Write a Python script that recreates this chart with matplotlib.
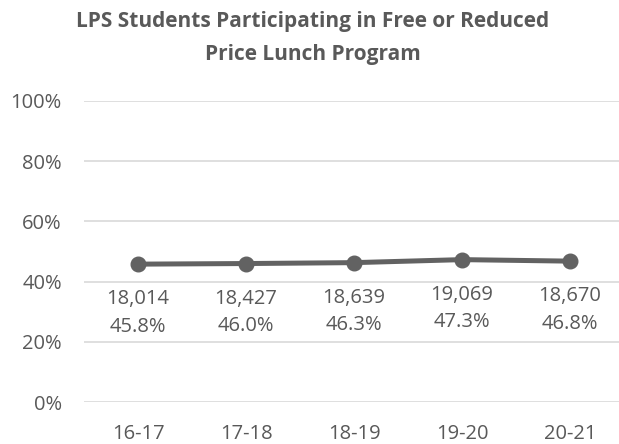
import matplotlib.pyplot as plt
from matplotlib.ticker import FuncFormatter

years = ["16-17", "17-18", "18-19", "19-20", "20-21"]
students = [18014, 18427, 18639, 19069, 18670]
pct = [45.8, 46.0, 46.3, 47.3, 46.8]

plt.rcParams['font.family'] = ['Open Sans', 'DejaVu Sans']
txt = "#595959"

fig = plt.figure(figsize=(6.19, 4.44), dpi=100)
ax = fig.add_axes([84/619, 42/444, 540/619, 301/444])

x = range(len(years))
ax.plot(x, pct, color="#626262", lw=3.6, marker="o", ms=10.5, solid_capstyle="round",
        zorder=3, clip_on=False)

for i in x:
    ax.annotate(f"{students[i]:,}\n{pct[i]:.1f}%", (i, pct[i]), xytext=(0, -18),
                textcoords="offset points", ha="center", va="top", fontsize=14.5,
                color=txt, linespacing=1.5)

ax.set_xlim(-0.5, len(years) - 0.5)
ax.set_ylim(0, 100)
ax.set_yticks(range(0, 101, 20))
ax.yaxis.set_major_formatter(FuncFormatter(lambda v, p: f"{v:.0f}%"))
ax.set_xticks(list(x))
ax.set_xticklabels(years)
ax.grid(axis="y", color="#d9d9d9", lw=1.2)
ax.set_axisbelow(True)
for s in ax.spines.values():
    s.set_visible(False)
ax.tick_params(length=0, labelsize=14.5, colors=txt)
ax.tick_params(axis="x", pad=16)
ax.tick_params(axis="y", pad=16)

fig.text(0.505, 0.975, "LPS Students Participating in Free or Reduced\nPrice Lunch Program",
         ha="center", va="top", fontsize=15, fontweight="bold", color=txt, linespacing=1.75)

fig.savefig("out.png", dpi=100)
